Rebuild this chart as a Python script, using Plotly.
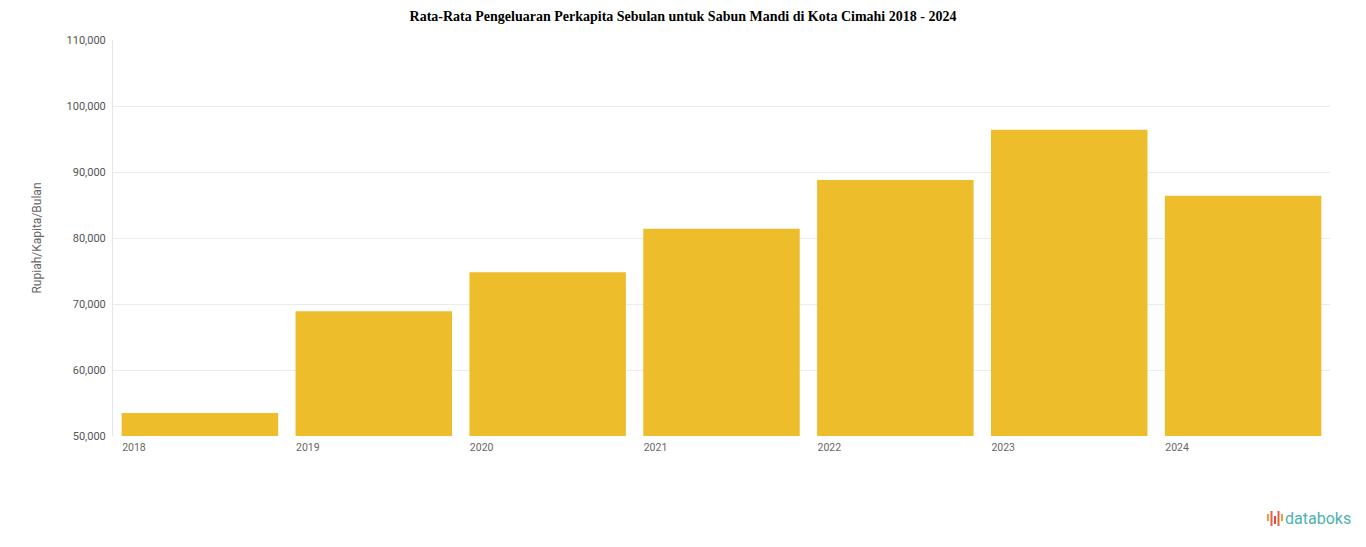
import plotly.graph_objects as go

years = ["2018", "2019", "2020", "2021", "2022", "2023", "2024"]
values = [53500, 68900, 74800, 81400, 88800, 96400, 86400]
tick_vals = [50000, 60000, 70000, 80000, 90000, 100000, 110000]
tick_text = ["50,000", "60,000", "70,000", "80,000", "90,000", "100,000", "110,000"]

title = "Rata-Rata Pengeluaran Perkapita Sebulan untuk Sabun Mandi di Kota Cimahi 2018 - 2024"

OFF = 8  # page body margin offset
L, R, T, B = 113 - OFF, 1330 - OFF, 40 - OFF, 436 - OFF
FW, FH = 1366, 547
W, H = R - L, B - T


def px(xp):
    return (xp - OFF - L) / W


def py(yp):
    return (B - (yp - OFF)) / H


fig = go.Figure(go.Bar(
    x=years, y=values, marker=dict(color="#EEBD2C", line=dict(width=0)),
))

fig.update_layout(
    width=FW, height=FH,
    margin=dict(l=L, r=FW - R, t=T, b=FH - B, autoexpand=False),
    paper_bgcolor="white", plot_bgcolor="white",
    bargap=0.1,
    showlegend=False,
    title=dict(text="<b>" + title + "</b>", x=(683 - OFF) / FW, xanchor="center",
               y=1 - 3 / FH, yanchor="top",
               font=dict(family="Liberation Serif", size=14, color="black")),
    font=dict(family="Roboto", color="#666"),
)
fig.update_yaxes(
    range=[50000, 110000], tickvals=tick_vals, ticktext=tick_text, automargin=False,
    gridcolor="#ececec", showline=True, linecolor="#e6e6e6", zeroline=False,
    tickfont=dict(size=11, color="#555"), ticks="", ticklabelstandoff=4,
    title=dict(text="Rupiah/Kapita/Bulan", font=dict(size=12, color="#666"), standoff=22),
)
fig.update_xaxes(
    type="category", showgrid=False, showline=False, automargin=False,
    tickfont=dict(size=10.5, color="#666"), ticklabelshift=-66, ticklabelstandoff=3,
)

# databoks logo
fig.add_annotation(xref="paper", yref="paper", x=px(1353), y=py(518), xanchor="right", yanchor="middle",
                   text="databoks", showarrow=False,
                   font=dict(family="Roboto", size=16, color="#4BB3AE"))
bars_x = [1268, 1271.5, 1275, 1278.5, 1282]
bars_top = [514, 511, 516, 511, 514]
bars_bot = [521, 526, 524, 526, 521]
cols = ["#F29A45", "#E8603C", "#E64B3C", "#E8603C", "#F29A45"]
for xb, t, b, c in zip(bars_x, bars_top, bars_bot, cols):
    fig.add_shape(type="line", xref="paper", yref="paper",
                  x0=px(xb), x1=px(xb), y0=py(t), y1=py(b),
                  line=dict(color=c, width=2))

fig.write_html("out.html")
